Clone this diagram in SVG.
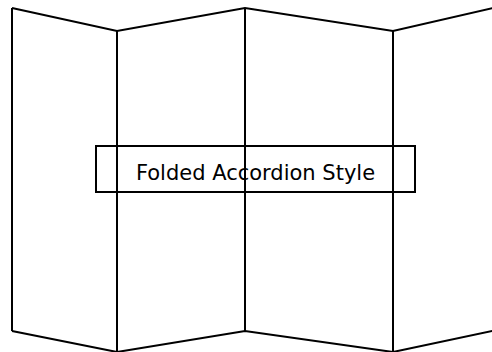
<svg xmlns="http://www.w3.org/2000/svg" width="492" height="352" viewBox="0 0 492 352">
<style>
.l{fill:none;stroke:#000;stroke-width:2;stroke-linejoin:miter}
.t{font-family:"DejaVu Sans",Verdana,sans-serif;font-size:21px;fill:#000}
</style>
<rect width="492" height="352" fill="#fff"/>
<g id="panels">
<polyline class="l" points="12,8 117,31 245,8 393,31 497,7"/>
<polyline class="l" points="12,331 117,352 245,331 393,352 497,330"/>
<line class="l" x1="12" y1="8" x2="12" y2="331"/>
<line class="l" x1="117" y1="31" x2="117" y2="352"/>
<line class="l" x1="245" y1="8" x2="245" y2="331"/>
<line class="l" x1="393" y1="31" x2="393" y2="352"/>
</g>
<g id="label">
<rect class="l" x="96" y="146" width="319" height="46"/>
<text class="t" x="255.5" y="180" text-anchor="middle">Folded Accordion Style</text>
</g>
</svg>
